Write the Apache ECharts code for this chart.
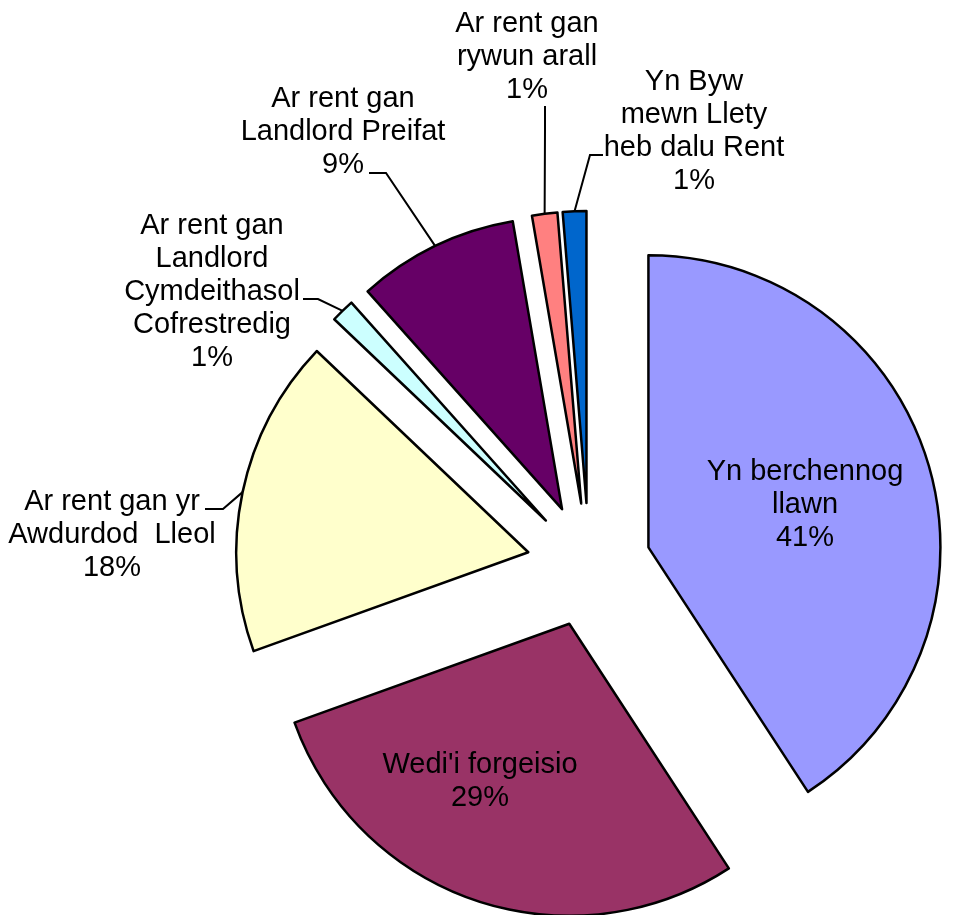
<!DOCTYPE html>
<html>
<head>
<meta charset="utf-8">
<script src="https://cdn.jsdelivr.net/npm/echarts@6/dist/echarts.min.js"></script>
<style>
  html, body { margin: 0; background: #fff; }
  #main { width: 953px; height: 915px; }
</style>
</head>
<body>
<div id="main"></div>
<script>
const categories = [
  'Yn berchennog\nllawn',
  "Wedi'i forgeisio",
  'Ar rent gan yr\nAwdurdod  Lleol',
  'Ar rent gan\nLandlord\nCymdeithasol\nCofrestredig',
  'Ar rent gan\nLandlord Preifat',
  'Ar rent gan\nrywun arall',
  'Yn Byw\nmewn Llety\nheb dalu Rent'
]
// shares in % (labels show them rounded)
const values = [40.8, 28.7, 17.6, 1.3, 8.9, 1.4, 1.3]
const colors = ['#9999ff', '#993366', '#ffffcc', '#ccffff', '#660066', '#ff8080', '#0066cc']

// where each label block sits, and the bend + end of its leader line
const labelSpots = [
  { x: 805, y: 505 },
  { x: 480, y: 781 },
  { x: 112, y: 535, line: [[223, 509], [205, 509]] },
  { x: 212, y: 292, line: [[318, 299], [303, 299]] },
  { x: 343, y: 132, line: [[386, 173], [369, 173]] },
  { x: 527, y: 57, line: [[545, 130], [545, 106]] },
  { x: 694, y: 131, line: [[590, 155], [603, 155]] }
]

const center = [589, 565]
const radius = 292
const explode = 62
const font = 'Arial, "Liberation Sans", sans-serif'

const chart = echarts.init(document.getElementById('main'))

const option = {
  animation: false,
  series: [
    {
      // the exploded slices
      type: 'pie',
      center: center,
      radius: radius,
      startAngle: 90,
      selectedMode: 'multiple',
      selectedOffset: explode,
      label: { show: false },
      labelLine: { show: false },
      emphasis: { disabled: true },
      itemStyle: { borderColor: '#000', borderWidth: 2.5 },
      select: { itemStyle: { borderColor: '#000', borderWidth: 2.5 } },
      data: categories.map((name, i) => ({
        name: name,
        value: values[i],
        selected: true,
        itemStyle: { color: colors[i] }
      }))
    },
    {
      // invisible copy that only carries the labels
      type: 'pie',
      center: center,
      radius: radius,
      startAngle: 90,
      silent: true,
      avoidLabelOverlap: false,
      itemStyle: { color: 'rgba(0,0,0,0)', borderWidth: 0 },
      emphasis: { disabled: true },
      label: {
        show: true,
        position: 'outside',
        formatter: p => p.name + '\n' + Math.round(p.value) + '%',
        color: '#000',
        fontFamily: font,
        fontSize: 29,
        lineHeight: 33,
        align: 'center'
      },
      labelLine: {
        show: true,
        length: 20,
        length2: 10,
        lineStyle: { color: '#000', width: 2 }
      },
      labelLayout: params => {
        const spot = labelSpots[params.dataIndex]
        const out = { x: spot.x, y: spot.y, align: 'center', verticalAlign: 'middle' }
        if (spot.line && params.labelLinePoints) {
          const p = params.labelLinePoints[0]
          const dx = p[0] - center[0]
          const dy = p[1] - center[1]
          const len = Math.hypot(dx, dy)
          // push the anchor out to the exploded slice edge
          const anchor = [p[0] + dx / len * explode, p[1] + dy / len * explode]
          out.labelLinePoints = [anchor].concat(spot.line)
        }
        return out
      },
      data: categories.map((name, i) => ({
        name: name,
        value: values[i],
        label: i < 2 ? { position: 'inside' } : {},
        labelLine: i < 2 ? { show: false } : {}
      }))
    }
  ]
}

chart.setOption(option)
</script>
</body>
</html>
